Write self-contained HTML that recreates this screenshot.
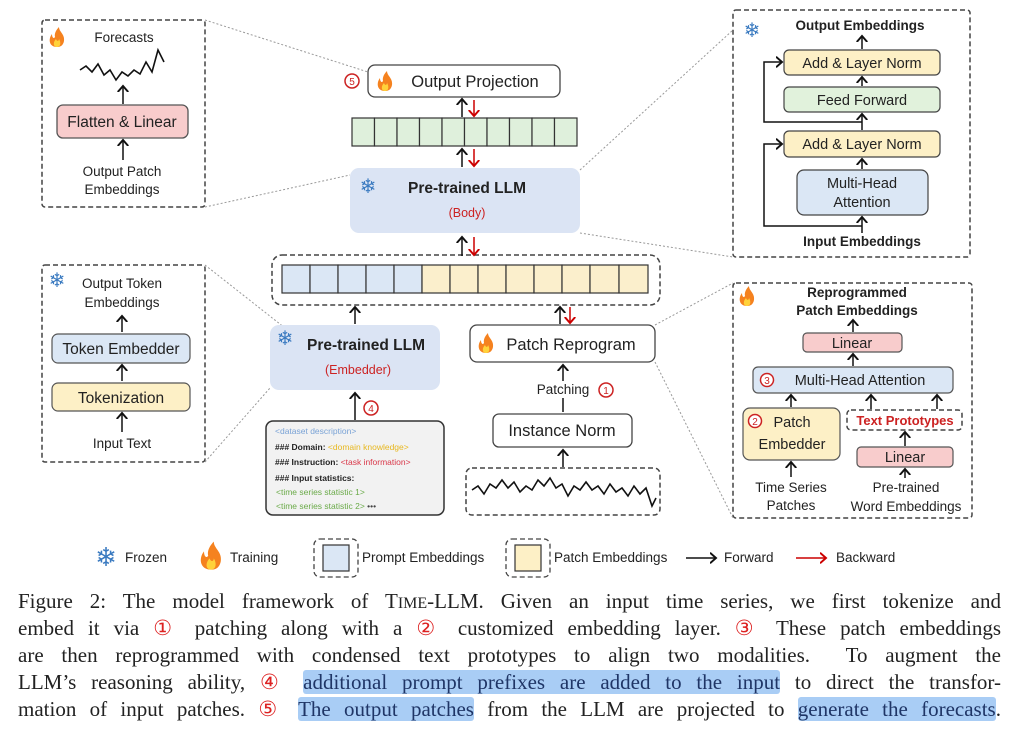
<!DOCTYPE html>
<html><head><meta charset="utf-8"><style>
body{margin:0;background:#fff;width:1010px;height:733px;position:relative;overflow:hidden}
svg{position:absolute;left:0;top:0}
.cap{position:absolute;left:18px;width:983px;font-family:"Liberation Serif",serif;font-size:21px;line-height:27px;text-align:justify;text-align-last:justify;color:#222;white-space:nowrap}
.hl{background:#a9cdf5;color:#1f3566;border-radius:3px}
.c{color:#d22}
</style></head><body>
<svg width="1010" height="733" viewBox="0 0 1010 733" font-family="Liberation Sans, sans-serif">
<defs>
<marker id="ab" markerWidth="8" markerHeight="8" refX="4" refY="4" orient="auto"><path d="M0,0.5 L4,4 L0,7.5" fill="none" stroke="#111" stroke-width="1.3"/></marker>
<marker id="ar" markerWidth="8" markerHeight="8" refX="4" refY="4" orient="auto"><path d="M0,0.5 L4,4 L0,7.5" fill="none" stroke="#c00" stroke-width="1.3"/></marker>
<g id="fl"><path d="M0,9 C-8,9 -9,1 -5,-4 C-5,0 -3,1 -2,-1 C-3,-5 0,-9 2,-11 C2,-6 8,-4 7,3 C6,8 3,9 0,9Z" fill="#f5821f"/><path d="M0,9 C-4,9 -4,4 -1,1 C0,4 2,3 2,1 C4,4 4,9 0,9Z" fill="#ffd23a"/></g>
</defs>
<g fill="none" stroke="#444" stroke-width="1.5" stroke-dasharray="5,3">
<rect x="42" y="20" width="163" height="187" rx="3"/>
<rect x="733" y="10" width="237" height="247" rx="3"/>
<rect x="42" y="265" width="163" height="197" rx="3"/>
<rect x="733" y="283" width="239" height="235" rx="3"/>
<rect x="272" y="255" width="388" height="50" rx="10"/>
<rect x="466" y="468" width="194" height="47" rx="6"/>
<rect x="847" y="410" width="115" height="20" rx="4"/>
</g>
<g stroke="#999" stroke-width="1" stroke-dasharray="2,2" fill="none">
<line x1="205" y1="20" x2="368" y2="72"/><line x1="205" y1="207" x2="350" y2="175"/>
<line x1="580" y1="170" x2="733" y2="30"/><line x1="580" y1="233" x2="733" y2="257"/>
<line x1="205" y1="265" x2="285" y2="328"/><line x1="205" y1="462" x2="270" y2="388"/>
<line x1="655" y1="325" x2="733" y2="283"/><line x1="655" y1="362" x2="733" y2="518"/>
</g>
<use href="#fl" x="57" y="38"/>
<text x="124" y="42" font-size="13.5" text-anchor="middle" fill="#222">Forecasts</text>
<polyline points="80,70 86,66 92,72 98,64 104,75 110,70 116,80 122,72 128,76 134,70 140,74 146,62 152,72 158,50 164,62" fill="none" stroke="#111" stroke-width="1.6"/>
<line x1="123" y1="104" x2="123" y2="86" stroke="#111" stroke-width="1.5" marker-end="url(#ab)"/>
<rect x="57" y="105" width="131" height="33" rx="6" fill="#f8cccc" stroke="#555" stroke-width="1.3"/>
<text x="122" y="127" font-size="15.5" text-anchor="middle" fill="#222">Flatten &amp; Linear</text>
<line x1="123" y1="160" x2="123" y2="140" stroke="#111" stroke-width="1.5" marker-end="url(#ab)"/>
<text x="122" y="176" font-size="13.5" text-anchor="middle" fill="#222">Output Patch</text>
<text x="122" y="194" font-size="13.5" text-anchor="middle" fill="#222">Embeddings</text>
<circle cx="352" cy="81" r="7" fill="#fff" stroke="#c22" stroke-width="1.5"/><text x="352" y="85" font-size="10" text-anchor="middle" fill="#c22">5</text>
<rect x="368" y="65" width="192" height="32" rx="7" fill="#fff" stroke="#444" stroke-width="1.3"/>
<use href="#fl" x="385" y="82"/>
<text x="475" y="87" font-size="16.5" text-anchor="middle" fill="#222">Output Projection</text>
<line x1="462" y1="117" x2="462" y2="99" stroke="#111" stroke-width="1.5" marker-end="url(#ab)"/>
<line x1="474" y1="100" x2="474" y2="116" stroke="#c00" stroke-width="1.5" marker-end="url(#ar)"/>
<g fill="#dff0dc" stroke="#333" stroke-width="1.2">
<rect x="352" y="118" width="22.5" height="28"/><rect x="374.5" y="118" width="22.5" height="28"/><rect x="397" y="118" width="22.5" height="28"/><rect x="419.5" y="118" width="22.5" height="28"/><rect x="442" y="118" width="22.5" height="28"/><rect x="464.5" y="118" width="22.5" height="28"/><rect x="487" y="118" width="22.5" height="28"/><rect x="509.5" y="118" width="22.5" height="28"/><rect x="532" y="118" width="22.5" height="28"/><rect x="554.5" y="118" width="22.5" height="28"/>
</g>
<line x1="462" y1="167" x2="462" y2="149" stroke="#111" stroke-width="1.5" marker-end="url(#ab)"/>
<line x1="474" y1="149" x2="474" y2="166" stroke="#c00" stroke-width="1.5" marker-end="url(#ar)"/>
<rect x="350" y="168" width="230" height="65" rx="9" fill="#dbe4f4"/>
<text x="368" y="193" font-size="20" fill="#3a7ac0" text-anchor="middle">❄</text>
<text x="467" y="193" font-size="15.5" font-weight="bold" text-anchor="middle" fill="#222">Pre-trained LLM</text>
<text x="467" y="217" font-size="12.5" text-anchor="middle" fill="#c22">(Body)</text>
<line x1="462" y1="256" x2="462" y2="237" stroke="#111" stroke-width="1.5" marker-end="url(#ab)"/>
<line x1="474" y1="237" x2="474" y2="255" stroke="#c00" stroke-width="1.5" marker-end="url(#ar)"/>
<g stroke="#333" stroke-width="1.2">
<g fill="#dbe7f5"><rect x="282" y="265" width="28" height="28"/><rect x="310" y="265" width="28" height="28"/><rect x="338" y="265" width="28" height="28"/><rect x="366" y="265" width="28" height="28"/><rect x="394" y="265" width="28" height="28"/></g>
<g fill="#fbefcc"><rect x="422" y="265" width="28" height="28"/><rect x="450" y="265" width="28" height="28"/><rect x="478" y="265" width="28" height="28"/><rect x="506" y="265" width="28" height="28"/><rect x="534" y="265" width="28" height="28"/><rect x="562" y="265" width="28" height="28"/><rect x="590" y="265" width="29" height="28"/><rect x="619" y="265" width="29" height="28"/></g>
</g>
<line x1="355" y1="324" x2="355" y2="307" stroke="#111" stroke-width="1.5" marker-end="url(#ab)"/>
<rect x="270" y="325" width="170" height="65" rx="9" fill="#dbe4f4"/>
<text x="285" y="345" font-size="20" fill="#3a7ac0" text-anchor="middle">❄</text>
<text x="366" y="350" font-size="15.5" font-weight="bold" text-anchor="middle" fill="#222">Pre-trained LLM</text>
<text x="358" y="374" font-size="12.5" text-anchor="middle" fill="#c22">(Embedder)</text>
<line x1="355" y1="420" x2="355" y2="393" stroke="#111" stroke-width="1.5" marker-end="url(#ab)"/>
<circle cx="371" cy="408" r="7" fill="#fff" stroke="#c22" stroke-width="1.5"/><text x="371" y="412" font-size="10" text-anchor="middle" fill="#c22">4</text>
<rect x="266" y="421" width="178" height="94" rx="7" fill="#f2f2f2" stroke="#333" stroke-width="1.5"/>
<g font-size="8.5">
<text x="275" y="434" fill="#7aa3d6">&lt;dataset description&gt;</text>
<text x="275" y="450" fill="#222" font-weight="bold">### Domain: <tspan fill="#e8b820" font-weight="normal">&lt;domain knowledge&gt;</tspan></text>
<text x="275" y="465" fill="#222" font-weight="bold">### Instruction: <tspan fill="#d9384a" font-weight="normal">&lt;task information&gt;</tspan></text>
<text x="275" y="481" fill="#222" font-weight="bold">### Input statistics:</text>
<text x="276" y="495" fill="#6aaa48">&lt;time series statistic 1&gt;</text>
<text x="276" y="509" fill="#6aaa48">&lt;time series statistic 2&gt; <tspan fill="#444">•••</tspan></text>
</g>
<line x1="560" y1="324" x2="560" y2="307" stroke="#111" stroke-width="1.5" marker-end="url(#ab)"/>
<line x1="570" y1="307" x2="570" y2="323" stroke="#c00" stroke-width="1.5" marker-end="url(#ar)"/>
<rect x="470" y="325" width="185" height="37" rx="7" fill="#fff" stroke="#444" stroke-width="1.3"/>
<use href="#fl" x="486" y="344"/>
<text x="571" y="350" font-size="16.5" text-anchor="middle" fill="#222">Patch Reprogram</text>
<line x1="563" y1="412" x2="563" y2="365" stroke="#111" stroke-width="1.5" marker-end="url(#ab)"/>
<rect x="530" y="381" width="66" height="17" fill="#fff"/>
<text x="563" y="394" font-size="13.5" text-anchor="middle" fill="#222">Patching</text>
<circle cx="606" cy="390" r="7" fill="#fff" stroke="#c22" stroke-width="1.5"/><text x="606" y="394" font-size="10" text-anchor="middle" fill="#c22">1</text>
<rect x="493" y="414" width="139" height="33" rx="6" fill="#fff" stroke="#444" stroke-width="1.3"/>
<text x="562" y="436" font-size="16.5" text-anchor="middle" fill="#222">Instance Norm</text>
<line x1="563" y1="467" x2="563" y2="450" stroke="#111" stroke-width="1.5" marker-end="url(#ab)"/>
<polyline points="472,490 478,486 484,494 490,484 496,488 502,480 508,488 514,482 520,492 526,486 532,490 538,480 544,486 550,478 556,488 562,484 568,496 574,486 580,490 586,482 592,490 598,486 604,494 610,484 616,492 622,488 628,496 634,486 640,494 646,488 652,506 656,498" fill="none" stroke="#111" stroke-width="1.6"/>
<text x="752" y="37" font-size="20" fill="#3a7ac0" text-anchor="middle">❄</text>
<text x="860" y="30" font-size="13.5" text-anchor="middle" font-weight="bold" fill="#222">Output Embeddings</text>
<line x1="862" y1="49" x2="862" y2="36" stroke="#111" stroke-width="1.5" marker-end="url(#ab)"/>
<rect x="784" y="50" width="156" height="25" rx="5" fill="#fdf0c6" stroke="#444" stroke-width="1.2"/>
<text x="862" y="68" font-size="14.5" text-anchor="middle" fill="#222">Add &amp; Layer Norm</text>
<line x1="862" y1="86" x2="862" y2="77" stroke="#111" stroke-width="1.5" marker-end="url(#ab)"/>
<rect x="784" y="87" width="156" height="25" rx="5" fill="#e1f2dc" stroke="#444" stroke-width="1.2"/>
<text x="862" y="105" font-size="14.5" text-anchor="middle" fill="#222">Feed Forward</text>
<line x1="862" y1="130" x2="862" y2="114" stroke="#111" stroke-width="1.5" marker-end="url(#ab)"/>
<rect x="784" y="131" width="156" height="26" rx="5" fill="#fdf0c6" stroke="#444" stroke-width="1.2"/>
<text x="862" y="149" font-size="14.5" text-anchor="middle" fill="#222">Add &amp; Layer Norm</text>
<line x1="862" y1="169" x2="862" y2="159" stroke="#111" stroke-width="1.5" marker-end="url(#ab)"/>
<rect x="797" y="170" width="131" height="45" rx="7" fill="#dbe7f5" stroke="#444" stroke-width="1.2"/>
<text x="862" y="188" font-size="14.5" text-anchor="middle" fill="#222">Multi-Head</text>
<text x="862" y="207" font-size="14.5" text-anchor="middle" fill="#222">Attention</text>
<line x1="862" y1="233" x2="862" y2="217" stroke="#111" stroke-width="1.5" marker-end="url(#ab)"/>
<text x="862" y="246" font-size="13.5" text-anchor="middle" font-weight="bold" fill="#222">Input Embeddings</text>
<polyline points="862,226 764,226 764,144 782,144" fill="none" stroke="#111" stroke-width="1.5" marker-end="url(#ab)"/>
<polyline points="862,122 764,122 764,62 782,62" fill="none" stroke="#111" stroke-width="1.5" marker-end="url(#ab)"/>
<text x="57" y="287" font-size="20" fill="#3a7ac0" text-anchor="middle">❄</text>
<text x="122" y="288" font-size="13.5" text-anchor="middle" fill="#222">Output Token</text>
<text x="122" y="307" font-size="13.5" text-anchor="middle" fill="#222">Embeddings</text>
<line x1="122" y1="332" x2="122" y2="316" stroke="#111" stroke-width="1.5" marker-end="url(#ab)"/>
<rect x="52" y="334" width="138" height="29" rx="6" fill="#dbe7f5" stroke="#555" stroke-width="1.2"/>
<text x="121" y="354" font-size="15.5" text-anchor="middle" fill="#222">Token Embedder</text>
<line x1="122" y1="381" x2="122" y2="365" stroke="#111" stroke-width="1.5" marker-end="url(#ab)"/>
<rect x="52" y="383" width="138" height="28" rx="6" fill="#fdf0c6" stroke="#555" stroke-width="1.2"/>
<text x="121" y="403" font-size="15.5" text-anchor="middle" fill="#222">Tokenization</text>
<line x1="122" y1="432" x2="122" y2="413" stroke="#111" stroke-width="1.5" marker-end="url(#ab)"/>
<text x="122" y="448" font-size="13.5" text-anchor="middle" fill="#222">Input Text</text>
<use href="#fl" x="747" y="297"/>
<text x="857" y="297" font-size="13.5" text-anchor="middle" font-weight="bold" fill="#222">Reprogrammed</text>
<text x="857" y="315" font-size="13.5" text-anchor="middle" font-weight="bold" fill="#222">Patch Embeddings</text>
<line x1="853" y1="332" x2="853" y2="320" stroke="#111" stroke-width="1.5" marker-end="url(#ab)"/>
<rect x="803" y="333" width="99" height="19" rx="4" fill="#f8cccc" stroke="#555" stroke-width="1.2"/>
<text x="852" y="348" font-size="14.5" text-anchor="middle" fill="#222">Linear</text>
<line x1="853" y1="366" x2="853" y2="354" stroke="#111" stroke-width="1.5" marker-end="url(#ab)"/>
<rect x="753" y="367" width="200" height="26" rx="5" fill="#dbe7f5" stroke="#555" stroke-width="1.2"/>
<circle cx="767" cy="380" r="6.5" fill="#fff" stroke="#c22" stroke-width="1.5"/><text x="767" y="384" font-size="10" text-anchor="middle" fill="#c22">3</text>
<text x="860" y="385" font-size="14.5" text-anchor="middle" fill="#222">Multi-Head Attention</text>
<line x1="791" y1="407" x2="791" y2="395" stroke="#111" stroke-width="1.5" marker-end="url(#ab)"/>
<line x1="871" y1="409" x2="871" y2="395" stroke="#111" stroke-width="1.5" marker-end="url(#ab)"/>
<line x1="937" y1="409" x2="937" y2="395" stroke="#111" stroke-width="1.5" marker-end="url(#ab)"/>
<rect x="743" y="408" width="97" height="52" rx="7" fill="#fdf0c6" stroke="#555" stroke-width="1.2"/>
<circle cx="755" cy="421" r="6.5" fill="#fff" stroke="#c22" stroke-width="1.5"/><text x="755" y="425" font-size="10" text-anchor="middle" fill="#c22">2</text>
<text x="792" y="427" font-size="14.5" text-anchor="middle" fill="#222">Patch</text>
<text x="792" y="449" font-size="14.5" text-anchor="middle" fill="#222">Embedder</text>
<text x="905" y="425" font-size="13" text-anchor="middle" fill="#c22" font-weight="bold">Text Prototypes</text>
<line x1="905" y1="446" x2="905" y2="432" stroke="#111" stroke-width="1.5" marker-end="url(#ab)"/>
<rect x="857" y="447" width="96" height="20" rx="4" fill="#f8cccc" stroke="#555" stroke-width="1.2"/>
<text x="905" y="462" font-size="14.5" text-anchor="middle" fill="#222">Linear</text>
<line x1="791" y1="477" x2="791" y2="462" stroke="#111" stroke-width="1.5" marker-end="url(#ab)"/>
<line x1="905" y1="478" x2="905" y2="469" stroke="#111" stroke-width="1.5" marker-end="url(#ab)"/>
<text x="791" y="492" font-size="13.5" text-anchor="middle" fill="#222">Time Series</text>
<text x="791" y="510" font-size="13.5" text-anchor="middle" fill="#222">Patches</text>
<text x="906" y="492" font-size="13.5" text-anchor="middle" fill="#222">Pre-trained</text>
<text x="906" y="511" font-size="13.5" text-anchor="middle" fill="#222">Word Embeddings</text>
<text x="106" y="566" font-size="26" fill="#3a7ac0" text-anchor="middle">❄</text>
<text x="125" y="562" font-size="13.5" fill="#222">Frozen</text>
<g transform="translate(211,557) scale(1.4)"><use href="#fl"/></g>
<text x="230" y="562" font-size="13.5" fill="#222">Training</text>
<rect x="314" y="539" width="44" height="38" rx="6" fill="none" stroke="#444" stroke-width="1.3" stroke-dasharray="5,3"/>
<rect x="323" y="545" width="26" height="26" fill="#dbe7f5" stroke="#333" stroke-width="1.2"/>
<text x="362" y="562" font-size="13.5" fill="#222">Prompt Embeddings</text>
<rect x="506" y="539" width="44" height="38" rx="6" fill="none" stroke="#444" stroke-width="1.3" stroke-dasharray="5,3"/>
<rect x="515" y="545" width="26" height="26" fill="#fdf0c6" stroke="#333" stroke-width="1.2"/>
<text x="554" y="562" font-size="13.5" fill="#222">Patch Embeddings</text>
<line x1="686" y1="558" x2="716" y2="558" stroke="#111" stroke-width="1.5" marker-end="url(#ab)"/>
<text x="724" y="562" font-size="13.5" fill="#222">Forward</text>
<line x1="796" y1="558" x2="826" y2="558" stroke="#c00" stroke-width="1.5" marker-end="url(#ar)"/>
<text x="836" y="562" font-size="13.5" fill="#222">Backward</text>
</svg>
<div class="cap" style="top:588px">Figure 2: The model framework of T<span style="font-size:16px">IME</span>-LLM. Given an input time series, we first tokenize and</div>
<div class="cap" style="top:615px">embed it via <span class="c">①</span> patching along with a <span class="c">②</span> customized embedding layer. <span class="c">③</span> These patch embeddings</div>
<div class="cap" style="top:642px">are then reprogrammed with condensed text prototypes to align two modalities. &nbsp;To augment the</div>
<div class="cap" style="top:669px">LLM’s reasoning ability, <span class="c">④</span> <span class="hl">additional prompt prefixes are added to the input</span> to direct the transfor-</div>
<div class="cap" style="top:696px">mation of input patches. <span class="c">⑤</span> <span class="hl">The output patches</span> from the LLM are projected to <span class="hl">generate the forecasts</span>.</div>
</body></html>
